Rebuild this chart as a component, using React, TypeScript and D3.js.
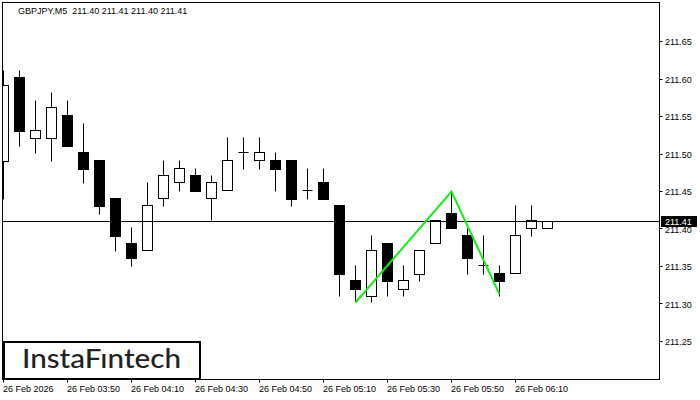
import React from "react";
import * as d3 from "d3";

const times = ["03:30","03:35","03:40","03:45","03:50","03:55","04:00","04:05","04:10","04:15","04:20","04:25","04:30","04:35","04:40","04:45","04:50","04:55","05:00","05:05","05:10","05:15","05:20","05:25","05:30","05:35","05:40","05:45","05:50","05:55","06:00","06:05","06:10","06:15","06:20"];
const opens  = [211.490,211.602,211.521,211.521,211.551,211.502,211.491,211.441,211.381,211.371,211.441,211.462,211.471,211.441,211.451,211.502,211.491,211.491,211.491,211.451,211.462,211.431,211.331,211.310,211.381,211.319,211.339,211.381,211.421,211.391,211.351,211.341,211.341,211.401,211.400];
const highs  = [211.611,211.611,211.571,211.582,211.571,211.541,211.491,211.441,211.402,211.462,211.491,211.491,211.481,211.471,211.522,211.522,211.522,211.502,211.491,211.481,211.481,211.431,211.351,211.391,211.381,211.351,211.371,211.411,211.450,211.401,211.391,211.351,211.431,211.431,211.410];
const lows   = [211.439,211.510,211.501,211.490,211.510,211.461,211.419,211.370,211.350,211.371,211.430,211.450,211.450,211.411,211.451,211.479,211.479,211.450,211.430,211.439,211.439,211.310,211.302,211.302,211.310,211.310,211.330,211.381,211.401,211.339,211.339,211.310,211.341,211.390,211.400];
const closes = [211.591,211.530,211.531,211.562,211.510,211.479,211.430,211.390,211.361,211.431,211.471,211.481,211.450,211.462,211.491,211.502,211.502,211.479,211.439,211.451,211.439,211.339,211.319,211.371,211.330,211.331,211.371,211.411,211.401,211.361,211.351,211.330,211.391,211.411,211.410];

const priceTicks = [211.25, 211.30, 211.35, 211.40, 211.45, 211.50, 211.55, 211.60, 211.65];
const timeTickIdx = [0, 4, 8, 12, 16, 20, 24, 28, 32];
const timeTickLabels = ["26 Feb 2026","26 Feb 03:50","26 Feb 04:10","26 Feb 04:30","26 Feb 04:50","26 Feb 05:10","26 Feb 05:30","26 Feb 05:50","26 Feb 06:10"];
const patternIdx = [22, 28, 31];
const patternPrice = [211.302, 211.450, 211.313];
const lastPrice = 211.41;
const title = "GBPJPY,M5  211.40 211.41 211.40 211.41";

const FONT = "'Liberation Sans', Arial, sans-serif";

export default function App() {
  const W = 700, H = 400;
  const left = 2.5, right = 659.5, top = 2.5, bottom = 379.5;
  const x = d3.scaleLinear().domain([0, 34]).range([3.5, 3.5 + 16 * 34]);
  const y = d3.scaleLinear().domain([211.25, 211.65]).range([341.5, 41.5]);
  const py = (p: number) => Math.floor(y(p)) + 0.5;
  const line = d3.line<number>().x((_, i) => x(patternIdx[i])).y((d) => y(d));

  return (
    <svg width={W} height={H} style={{ position: "fixed", left: 0, top: 0, background: "#fff" }} fontFamily={FONT}>
      <rect x={0} y={0} width={W} height={H} fill="#fff" />
      <defs>
        <clipPath id="plot">
          <rect x={left} y={top} width={right - left} height={bottom - top} />
        </clipPath>
      </defs>
      <text x={18} y={13.5} fontSize={9} fill="#000" style={{ whiteSpace: "pre" }}>{title}</text>
      <g clipPath="url(#plot)">
        {times.map((t, i) => {
          const cx = Math.floor(x(i)) + 0.5;
          const o = opens[i], c = closes[i];
          const yo = py(o), yc = py(c);
          const yt = Math.min(yo, yc), yb = Math.max(yo, yc);
          const bull = c >= o;
          return (
            <g key={t}>
              <line x1={cx} x2={cx} y1={py(highs[i])} y2={py(lows[i])} stroke="#000" strokeWidth={1} />
              {yb - yt < 1 ? (
                <line x1={cx - 5} x2={cx + 5} y1={yt} y2={yt} stroke="#000" strokeWidth={1} />
              ) : (
                <rect x={cx - 5} y={yt} width={10} height={yb - yt} fill={bull ? "#fff" : "#000"} stroke="#000" strokeWidth={1} />
              )}
            </g>
          );
        })}
        <line x1={left} x2={right} y1={py(lastPrice)} y2={py(lastPrice)} stroke="#000" strokeWidth={1} />
        <path d={line(patternPrice) || ""} fill="none" stroke="#11ee11" strokeWidth={2} />
      </g>
      <rect x={left} y={top} width={right - left} height={bottom - top} fill="none" stroke="#000" strokeWidth={1} />
      {priceTicks.map((p) => (
        <g key={p}>
          <line x1={right} x2={right + 3} y1={py(p)} y2={py(p)} stroke="#000" />
          <text x={665} y={y(p) + 3.5} fontSize={9} fill="#000">{p.toFixed(2)}</text>
        </g>
      ))}
      <rect x={661} y={py(lastPrice) - 5.5} width={36} height={11} fill="#000" />
      <text x={665} y={py(lastPrice) + 3.5} fontSize={9} fill="#fff">{lastPrice.toFixed(2)}</text>
      {timeTickIdx.map((idx, k) => (
        <g key={idx}>
          <line x1={Math.floor(x(idx)) + 0.5} x2={Math.floor(x(idx)) + 0.5} y1={bottom} y2={bottom + 3} stroke="#000" />
          <text x={Math.floor(x(idx))} y={392} fontSize={9} fill="#000">{timeTickLabels[k]}</text>
        </g>
      ))}
      <rect x={4} y={342} width={196} height={37} fill="#fff" stroke="#000" strokeWidth={2} />
      <text x={22} y={368} fontSize={26} fontFamily="Lato, 'Open Sans', sans-serif" fontWeight={500} fill="#222" textLength={159} lengthAdjust="spacingAndGlyphs">InstaFıntech</text>
    </svg>
  );
}
